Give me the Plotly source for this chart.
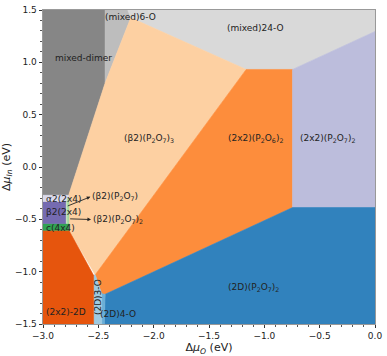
import plotly.graph_objects as go

# Phase regions: name, boundary vertices (Δμ_O, Δμ_In) in eV
region_names = [
    "mixed-dimer", "(mixed)6-O", "(mixed)24-O", "(β2)(P2O7)3",
    "(2x2)(P2O6)2", "(2x2)(P2O7)2", "(2D)(P2O7)2", "(2D)4-O", "(2D)3-O",
    "(2x2)-2D", "c(4x4)", "β2(2x4)", "α2(2x4)", "(β2)(P2O7)", "(β2)(P2O7)2",
]
region_x = [
    [-3.0, -2.4385, -2.4385, -2.768, -3.0],
    [-2.4385, -2.2335, -2.207, -2.4385],
    [-2.2335, 0.0, 0.0, -0.745, -1.164, -2.207],
    [-2.207, -1.164, -2.528, -2.766, -2.766, -2.768, -2.4385],
    [-1.164, -0.745, -0.745, -2.4385, -2.47, -2.528],
    [-0.745, 0.0, 0.0, -0.745],
    [-2.4385, -0.745, 0.0, 0.0, -2.445],
    [-2.47, -2.47, -2.4385, -2.445],
    [-2.543, -2.543, -2.528, -2.47, -2.47],
    [-3.0, -2.766, -2.543, -2.543, -3.0],
    [-3.0, -2.766, -2.766, -3.0],
    [-3.0, -2.79, -2.79, -3.0],
    [-3.0, -2.768, -2.768, -3.0],
    [-2.79, -2.778, -2.778, -2.79],
    [-2.778, -2.766, -2.766, -2.778],
]
region_y = [
    [1.5, 1.5, 0.802, -0.27, -0.27],
    [1.5, 1.5, 1.426, 0.802],
    [1.5, 1.5, 1.295, 0.932, 0.932, 1.426],
    [1.426, 0.932, -1.03, -0.605, -0.30, -0.27, 0.802],
    [0.932, 0.932, -0.387, -1.216, -1.21, -1.03],
    [0.932, 1.295, -0.387, -0.387],
    [-1.216, -0.387, -0.387, -1.5, -1.5],
    [-1.5, -1.21, -1.216, -1.5],
    [-1.5, -1.035, -1.03, -1.21, -1.5],
    [-0.605, -0.605, -1.035, -1.5, -1.5],
    [-0.54, -0.54, -0.605, -0.605],
    [-0.33, -0.33, -0.54, -0.54],
    [-0.27, -0.27, -0.33, -0.33],
    [-0.33, -0.33, -0.54, -0.54],
    [-0.30, -0.30, -0.54, -0.54],
]
region_colors = [
    "#868686", "#bdbdbd", "#d9d9d9", "#fdd0a2",
    "#fd8d3c", "#bcbddc", "#3182bd", "#6baed6", "#9ecae1",
    "#e6550d", "#31a354", "#756bb1", "#dadaeb", "#c7e9c0", "#a1d99b",
]

# Region labels: text, position (Δμ_O, Δμ_In), anchor
label_texts = [
    "(mixed)6-O", "(mixed)24-O", "mixed-dimer", "(β2)(P<sub>2</sub>O<sub>7</sub>)<sub>3</sub>",
    "(2x2)(P<sub>2</sub>O<sub>6</sub>)<sub>2</sub>", "(2x2)(P<sub>2</sub>O<sub>7</sub>)<sub>2</sub>",
    "(2D)(P<sub>2</sub>O<sub>7</sub>)<sub>2</sub>", "(2x2)-2D", "(2D)4-O",
    "α2(2x4)", "β2(2x4)", "c(4x4)",
]
label_x = [-2.207, -1.079, -2.63, -2.042, -1.079, -0.429, -1.10, -2.99, -2.323, -2.99, -2.99, -2.99]
label_y = [1.435, 1.332, 1.044, 0.271, 0.271, 0.271, -1.154, -1.385, -1.40, -0.306, -0.434, -0.585]
label_anchor = ["center"] * 7 + ["left", "center", "left", "left", "left"]

# Arrow labels for the thin slivers
arrow_texts = ["(β2)(P<sub>2</sub>O<sub>7</sub>)", "(β2)(P<sub>2</sub>O<sub>7</sub>)<sub>2</sub>"]
arrow_text_x = [-2.572, -2.566]
arrow_text_y = [-0.285, -0.502]
arrow_point_x = [-2.79, -2.768]
arrow_point_y = [-0.378, -0.495]

xticks = [-3.0, -2.5, -2.0, -1.5, -1.0, -0.5, 0.0]
yticks = [-1.5, -1.0, -0.5, 0.0, 0.5, 1.0, 1.5]

FONT = "DejaVu Sans"

fig = go.Figure()
for name, xs, ys, c in zip(region_names, region_x, region_y, region_colors):
    fig.add_trace(go.Scatter(
        x=xs + [xs[0]], y=ys + [ys[0]], mode="lines", fill="toself",
        fillcolor=c, line=dict(color=c, width=0.6), name=name,
        hoverinfo="skip", showlegend=False,
    ))

for t, x, y, a in zip(label_texts, label_x, label_y, label_anchor):
    fig.add_annotation(x=x, y=y, text=t, showarrow=False, xanchor=a,
                       yanchor="middle", font=dict(family=FONT, size=9, color="#222"))

# (2D)3-O rotated label
fig.add_annotation(x=-2.496, y=-1.245, text="(2D)3-O", showarrow=False, textangle=-90,
                   font=dict(family=FONT, size=9, color="#222"))

for t, tx, ty, px, py in zip(arrow_texts, arrow_text_x, arrow_text_y, arrow_point_x, arrow_point_y):
    fig.add_annotation(x=tx, y=ty, ax=px, ay=py, axref="x", ayref="y", xref="x", yref="y",
                       text="", showarrow=True, arrowhead=2, arrowsize=0.8, arrowwidth=0.9,
                       arrowcolor="#222", standoff=0)
    fig.add_annotation(x=tx, y=ty, text=t, showarrow=False, xanchor="left", yanchor="middle",
                       font=dict(family=FONT, size=9, color="#222"))

axis_common = dict(
    showgrid=False, zeroline=False, ticks="outside", ticklen=3.5, tickwidth=0.8,
    tickcolor="#333", showline=True, linecolor="#999", linewidth=0.8, mirror=True,
    tickfont=dict(family=FONT, size=9, color="#222"), tickformat=".1f",
)
fig.update_xaxes(range=[-3.0, 0.0], tickvals=xticks,
                 minor=dict(dtick=0.1, ticks="outside", ticklen=2, tickcolor="#555"),
                 title=dict(text="Δ<i>μ</i><sub><i>O</i></sub> (eV)", standoff=2,
                            font=dict(family=FONT, size=11, color="#222")),
                 **axis_common)
fig.update_yaxes(range=[-1.5, 1.5], tickvals=yticks,
                 minor=dict(dtick=0.1, ticks="outside", ticklen=2, tickcolor="#555"),
                 title=dict(text="Δ<i>μ</i><sub><i>In</i></sub> (eV)", standoff=2,
                            font=dict(family=FONT, size=11, color="#222")),
                 **axis_common)
fig.update_layout(
    width=387, height=356, margin=dict(l=42, r=8, t=5, b=29),
    plot_bgcolor="white", paper_bgcolor="white",
)
fig.write_html("out.html", config={"displayModeBar": False},
               post_script="document.body.style.margin='0';")
